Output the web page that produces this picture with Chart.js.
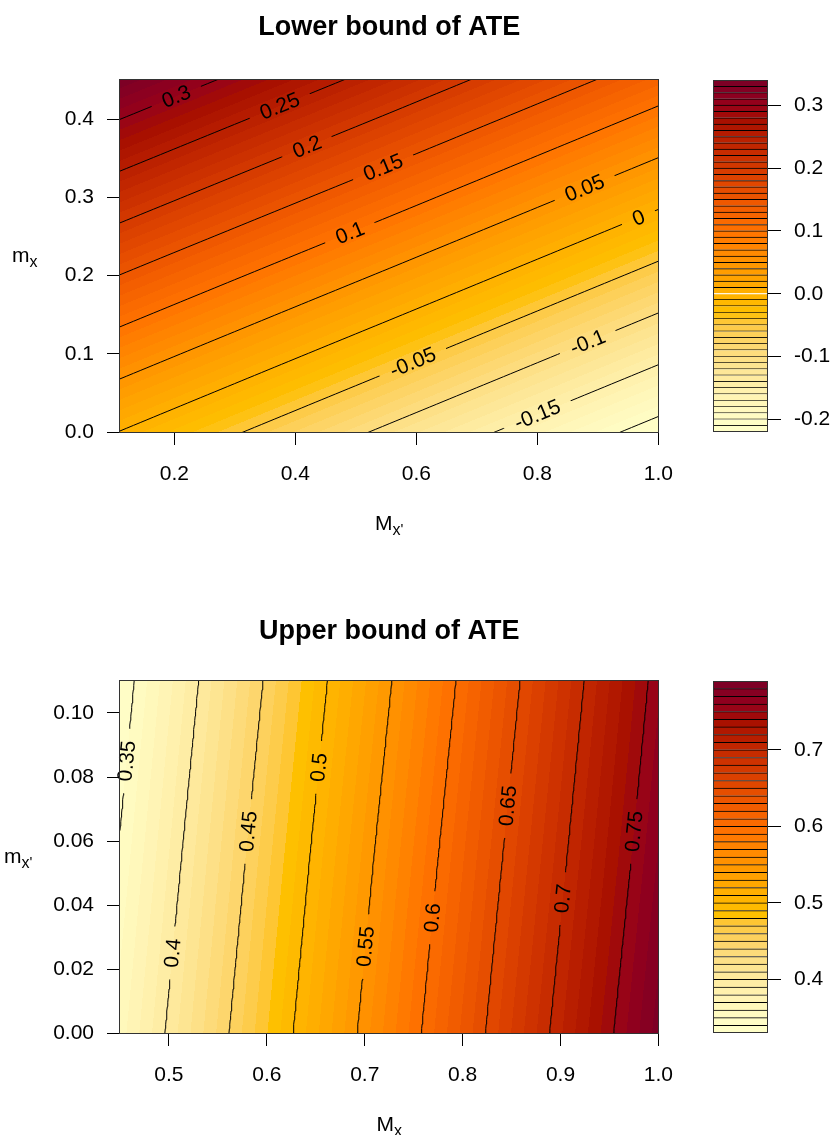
<!DOCTYPE html>
<html>
<head>
<meta charset="utf-8">
<script src="https://cdn.jsdelivr.net/npm/chart.js@4.4.0/dist/chart.umd.min.js"></script>
<style>
  body { margin: 0; background: #fff; }
  #wrap { position: relative; width: 834px; height: 1135px; overflow: hidden; }
  canvas { position: absolute; }
</style>
</head>
<body>
<div id="wrap">
  <canvas id="lowerPlot" width="690" height="560" style="left:0px;top:0px"></canvas>
  <canvas id="lowerKey" width="144" height="560" style="left:690px;top:0px"></canvas>
  <canvas id="upperPlot" width="690" height="575" style="left:0px;top:560px"></canvas>
  <canvas id="upperKey" width="144" height="575" style="left:690px;top:560px"></canvas>
</div>
<script>
// ---- Lower bound of ATE (x = M_x', y = m_x) ----
const lowerX = [0.11, 0.555, 1.0];
const lowerY = [0, 0.225, 0.45];
const lowerZ = [
    [-0.001, -0.108, -0.215],
    [0.168, 0.062, -0.045],
    [0.338, 0.232, 0.125]
];
const lowerLines = [-0.2, -0.15, -0.1, -0.05, 0, 0.05, 0.1, 0.15, 0.2, 0.25, 0.3];
const lowerXTicks = [0.2, 0.4, 0.6, 0.8, 1.0];
const lowerYTicks = [0, 0.1, 0.2, 0.3, 0.4];
const lowerKeyTicks = [-0.2, -0.1, 0, 0.1, 0.2, 0.3];
const lowerKeyRange = [-0.22, 0.34];

// ---- Upper bound of ATE (x = M_x, y = m_x') ----
const upperX = [0.45, 0.725, 1.0];
const upperY = [0, 0.055, 0.11];
const upperZ = [
    [0.365, 0.575, 0.785],
    [0.352, 0.562, 0.771],
    [0.339, 0.548, 0.758]
];
const upperLines = [0.35, 0.4, 0.45, 0.5, 0.55, 0.6, 0.65, 0.7, 0.75];
const upperXTicks = [0.5, 0.6, 0.7, 0.8, 0.9, 1.0];
const upperYTicks = [0, 0.02, 0.04, 0.06, 0.08, 0.10];
const upperKeyTicks = [0.4, 0.5, 0.6, 0.7];
const upperKeyRange = [0.33, 0.79];

const keyStep = 0.01;
const FONT = '"Liberation Sans", Arial, Helvetica, sans-serif';

// hcl.colors(n, "YlOrRd", rev = TRUE), same maths as R's hcl()
function hclRgb(h, c, l) {
    const hr = h * Math.PI / 180;
    const U = c * Math.cos(hr), V = c * Math.sin(hr);
    let X = 0, Y = 0, Z = 0;
    if (l > 0) {
        Y = l > 7.999592 ? Math.pow((l + 16) / 116, 3) : l / 903.3;
        const u = U / (13 * l) + 0.1978398;
        const v = V / (13 * l) + 0.4683363;
        X = 9 * Y * u / (4 * v);
        Z = -X / 3 - 5 * Y + 3 * Y / v;
    }
    const g = t => t > 0.00304 ? 1.055 * Math.pow(t, 1 / 2.4) - 0.055 : 12.92 * t;
    const cl = t => Math.round(255 * Math.min(1, Math.max(0, g(t))));
    return [
        cl(3.240479 * X - 1.537150 * Y - 0.498535 * Z),
        cl(-0.969256 * X + 1.875992 * Y + 0.041556 * Z),
        cl(0.055648 * X - 0.204043 * Y + 1.057311 * Z)
    ];
}

function ylOrRd(n) {
    const h1 = 5, h2 = 85, c1 = 75, c2 = 40, cmax = 180, l1 = 25, l2 = 99, p1 = 1.6, p2 = 1.3;
    const j = 1 / (1 + Math.abs(cmax - c1) / Math.abs(cmax - c2));
    const out = [];
    for (let k = 0; k < n; k++) {
        const i = n === 1 ? 0 : k / (n - 1);
        const c = i <= j ? c2 - (c2 - cmax) * Math.pow(i / j, p1)
                         : cmax - (cmax - c1) * Math.pow((i - j) / (1 - j), p1);
        out.push(hclRgb(h2 - (h2 - h1) * i, c, l2 - (l2 - l1) * Math.pow(i, p2)));
    }
    return out;
}

function breaksFrom(range) {
    const n = Math.round((range[1] - range[0]) / keyStep);
    return Array.from({ length: n + 1 }, (_, k) => +(range[0] + k * keyStep).toFixed(4));
}

// bilinear value inside the grid
function cellOf(nodes, v) {
    for (let k = 0; k < nodes.length - 2; k++) if (v <= nodes[k + 1]) return k;
    return nodes.length - 2;
}
function fieldAt(f, x, y) {
    const i = cellOf(f.xs, x), j = cellOf(f.ys, y);
    const tx = (x - f.xs[i]) / (f.xs[i + 1] - f.xs[i]);
    const ty = (y - f.ys[j]) / (f.ys[j + 1] - f.ys[j]);
    return f.zs[j][i] * (1 - tx) * (1 - ty) + f.zs[j][i + 1] * tx * (1 - ty)
         + f.zs[j + 1][i] * (1 - tx) * ty + f.zs[j + 1][i + 1] * tx * ty;
}
function solveOn(nodes, vals, level) {
    for (let k = 0; k < nodes.length - 1; k++) {
        if ((level - vals[k]) * (level - vals[k + 1]) <= 0 && vals[k] !== vals[k + 1]) {
            return nodes[k] + (level - vals[k]) / (vals[k + 1] - vals[k]) * (nodes[k + 1] - nodes[k]);
        }
    }
    const last = nodes.length - 1;
    const k = Math.abs(level - vals[0]) < Math.abs(level - vals[last]) ? 0 : last - 1;
    return nodes[k] + (level - vals[k]) / (vals[k + 1] - vals[k]) * (nodes[k + 1] - nodes[k]);
}
function pointOn(f, level, along, t) {
    if (along === 'x') return { x: t, y: solveOn(f.ys, f.ys.map(v => fieldAt(f, t, v)), level) };
    return { x: solveOn(f.xs, f.xs.map(v => fieldAt(f, v, t)), level), y: t };
}
function contourPoints(f, level, along) {
    const nodes = along === 'x' ? f.xs : f.ys;
    const a = nodes[0], b = nodes[nodes.length - 1];
    const pts = [];
    for (let s = 0; s <= 80; s++) pts.push(pointOn(f, level, along, a + (b - a) * s / 80));
    return pts;
}

function labelSpots(chart, p) {
    const xs = chart.scales.x, ys = chart.scales.y;
    const pix = q => [xs.getPixelForValue(q.x), ys.getPixelForValue(q.y)];
    const d = p.along === 'x' ? 0.01 : 0.002;
    chart.ctx.font = '21px ' + FONT;
    return p.labelAt.map(([level, t]) => {
        const [cx, cy] = pix(pointOn(p.field, level, p.along, t));
        const [x1, y1] = pix(pointOn(p.field, level, p.along, t - d));
        const [x2, y2] = pix(pointOn(p.field, level, p.along, t + d));
        let ang = Math.atan2(y2 - y1, x2 - x1);
        if (ang > Math.PI / 2) ang -= Math.PI;
        if (ang < -Math.PI / 2) ang += Math.PI;
        const text = String(level);
        return { text, cx, cy, ang, w: chart.ctx.measureText(text).width };
    });
}

function drawParts(ctx, parts, x, baseY, centred) {
    let total = 0;
    parts.forEach(pt => { ctx.font = pt.size + 'px ' + FONT; total += ctx.measureText(pt.t).width; });
    let cx = centred ? x - total / 2 : x;
    ctx.textAlign = 'left';
    ctx.textBaseline = 'alphabetic';
    parts.forEach(pt => {
        ctx.font = pt.size + 'px ' + FONT;
        ctx.fillText(pt.t, cx, baseY + pt.dy);
        cx += ctx.measureText(pt.t).width;
    });
}

function contourPlugin(p) {
    const breaks = breaksFrom(p.keyRange);
    const cols = ylOrRd(breaks.length - 1);
    return {
        id: 'contourFill',
        beforeDatasetsDraw(chart) {
            const ctx = chart.ctx, ca = chart.chartArea;
            const xs = chart.scales.x, ys = chart.scales.y;
            const w = Math.round(ca.right - ca.left), h = Math.round(ca.bottom - ca.top);
            const off = document.createElement('canvas');
            off.width = w; off.height = h;
            const octx = off.getContext('2d');
            const img = octx.createImageData(w, h);
            for (let r = 0; r < h; r++) {
                const yv = ys.getValueForPixel(ca.top + r + 0.5);
                for (let c = 0; c < w; c++) {
                    const xv = xs.getValueForPixel(ca.left + c + 0.5);
                    const z = fieldAt(p.field, xv, yv);
                    let k = Math.floor((z - breaks[0]) / keyStep);
                    k = Math.max(0, Math.min(cols.length - 1, k));
                    const o = (r * w + c) * 4;
                    img.data[o] = cols[k][0];
                    img.data[o + 1] = cols[k][1];
                    img.data[o + 2] = cols[k][2];
                    img.data[o + 3] = 255;
                }
            }
            octx.putImageData(img, 0, 0);
            ctx.drawImage(off, Math.round(ca.left), Math.round(ca.top));

            // leave gaps in the contour lines where the labels go
            ctx.save();
            ctx.beginPath();
            ctx.rect(0, 0, chart.width, chart.height);
            labelSpots(chart, p).forEach(s => {
                const hw = s.w / 2 + 12, hh = 10;
                const ux = Math.cos(s.ang), uy = Math.sin(s.ang);
                const nx = -uy, ny = ux;
                ctx.moveTo(s.cx - ux * hw - nx * hh, s.cy - uy * hw - ny * hh);
                ctx.lineTo(s.cx + ux * hw - nx * hh, s.cy + uy * hw - ny * hh);
                ctx.lineTo(s.cx + ux * hw + nx * hh, s.cy + uy * hw + ny * hh);
                ctx.lineTo(s.cx - ux * hw + nx * hh, s.cy - uy * hw + ny * hh);
                ctx.closePath();
            });
            ctx.clip('evenodd');
        },
        afterDatasetsDraw(chart) {
            const ctx = chart.ctx;
            ctx.restore();
            ctx.save();
            ctx.fillStyle = '#000';
            ctx.font = '21px ' + FONT;
            ctx.textAlign = 'center';
            ctx.textBaseline = 'middle';
            labelSpots(chart, p).forEach(s => {
                ctx.save();
                ctx.translate(s.cx, s.cy);
                ctx.rotate(s.ang);
                ctx.fillText(s.text, 0, 1);
                ctx.restore();
            });
            ctx.restore();
        },
        afterDraw(chart) {
            const ctx = chart.ctx, ca = chart.chartArea;
            ctx.save();
            ctx.strokeStyle = '#333';
            ctx.lineWidth = 1;
            ctx.strokeRect(Math.round(ca.left) - 0.5, Math.round(ca.top) - 0.5,
                Math.round(ca.right - ca.left) + 1, Math.round(ca.bottom - ca.top) + 1);
            ctx.fillStyle = '#000';
            ctx.font = 'bold 27px ' + FONT;
            ctx.textAlign = 'center';
            ctx.textBaseline = 'middle';
            ctx.fillText(p.title, (ca.left + ca.right) / 2, p.titleY);
            drawParts(ctx, p.xTitle, (ca.left + ca.right) / 2, ca.bottom + 98, true);
            drawParts(ctx, p.yTitle, p.yTitleX, (ca.top + ca.bottom) / 2 + 6, false);
            ctx.restore();
        }
    };
}

function axisOpts(ticks, digits, size, min, max) {
    return {
        type: 'linear', min, max,
        border: { display: false },
        grid: { drawOnChartArea: false, drawTicks: true, tickLength: 13, color: '#000' },
        ticks: { font: { family: FONT, size: 21 }, color: '#000', padding: 13, autoSkip: false,
                 maxRotation: 0, callback: v => v.toFixed(digits) },
        afterBuildTicks: s => { s.ticks = ticks.map(v => ({ value: v })); },
        afterFit: s => { if (s.isHorizontal()) s.height = size; else s.width = size; }
    };
}

function makePlot(id, p) {
    const datasets = p.lines.map(level => ({
        data: contourPoints(p.field, level, p.along),
        showLine: true, pointRadius: 0, borderColor: '#000', borderWidth: 1, tension: 0
    }));
    const xAxis = axisOpts(p.xTicks, 1, p.xAxisH, p.field.xs[0], p.field.xs[p.field.xs.length - 1]);
    xAxis.ticks.padding = 17;
    new Chart(document.getElementById(id), {
        type: 'scatter',
        data: { datasets },
        options: {
            responsive: false, animation: false, devicePixelRatio: 1, events: [],
            layout: { padding: { left: 0, right: 30, top: p.top, bottom: 0 } },
            plugins: { legend: { display: false }, tooltip: { enabled: false } },
            scales: {
                x: xAxis,
                y: axisOpts(p.yTicks, p.yDigits, 120, p.field.ys[0], p.field.ys[p.field.ys.length - 1])
            }
        },
        plugins: [contourPlugin(p)]
    });
}

function makeKey(id, range, ticks, top, bottom) {
    const breaks = breaksFrom(range);
    const cols = ylOrRd(breaks.length - 1);
    const datasets = cols.map((c, k) => ({
        data: [[breaks[k], breaks[k + 1]]],
        backgroundColor: 'rgb(' + c.join(',') + ')',
        borderColor: '#000', borderWidth: 1, borderSkipped: 'bottom',
        grouped: false, barPercentage: 1, categoryPercentage: 1
    }));
    new Chart(document.getElementById(id), {
        type: 'bar',
        data: { labels: [''], datasets },
        options: {
            responsive: false, animation: false, devicePixelRatio: 1, events: [],
            layout: { padding: { left: 23, right: 0, top, bottom } },
            plugins: { legend: { display: false }, tooltip: { enabled: false } },
            scales: {
                x: { display: false },
                y: Object.assign(axisOpts(ticks, 1, 66, range[0], range[1]), { position: 'right' })
            }
        },
        plugins: [{
            id: 'keyBox',
            afterDraw(chart) {
                const ctx = chart.ctx, ca = chart.chartArea;
                ctx.save();
                ctx.strokeStyle = '#333';
                ctx.strokeRect(Math.round(ca.left) + 0.5, Math.round(ca.top) + 0.5,
                    Math.round(ca.right - ca.left) - 1, Math.round(ca.bottom - ca.top) - 1);
                ctx.restore();
            }
        }]
    });
}

makePlot('lowerPlot', {
    field: { xs: lowerX, ys: lowerY, zs: lowerZ },
    lines: lowerLines, keyRange: lowerKeyRange, along: 'x',
    labelAt: [[0.3, 0.203], [0.25, 0.374], [0.2, 0.419], [0.15, 0.545], [0.1, 0.49],
              [0.05, 0.878], [0, 0.967], [-0.05, 0.594], [-0.1, 0.883], [-0.15, 0.8]],
    xTicks: lowerXTicks, yTicks: lowerYTicks, yDigits: 1,
    top: 80, xAxisH: 128,
    title: 'Lower bound of ATE', titleY: 28,
    xTitle: [{ t: 'M', size: 21, dy: 0 }, { t: 'x', size: 16, dy: 5 }, { t: "'", size: 15, dy: 4 }],
    yTitle: [{ t: 'm', size: 21, dy: 0 }, { t: 'x', size: 16, dy: 5 }],
    yTitleX: 12
});
makeKey('lowerKey', lowerKeyRange, lowerKeyTicks, 80, 128);

makePlot('upperPlot', {
    field: { xs: upperX, ys: upperY, zs: upperZ },
    lines: upperLines, keyRange: upperKeyRange, along: 'y',
    labelAt: [[0.35, 0.085], [0.4, 0.025], [0.45, 0.063], [0.5, 0.083], [0.55, 0.027],
              [0.6, 0.036], [0.65, 0.071], [0.7, 0.042], [0.75, 0.063]],
    xTicks: upperXTicks, yTicks: upperYTicks, yDigits: 2,
    top: 121, xAxisH: 102,
    title: 'Upper bound of ATE', titleY: 72,
    xTitle: [{ t: 'M', size: 21, dy: 0 }, { t: 'x', size: 16, dy: 5 }],
    yTitle: [{ t: 'm', size: 21, dy: 0 }, { t: 'x', size: 16, dy: 5 }, { t: "'", size: 15, dy: 4 }],
    yTitleX: 4
});
makeKey('upperKey', upperKeyRange, upperKeyTicks, 121, 102);
</script>
</body>
</html>
